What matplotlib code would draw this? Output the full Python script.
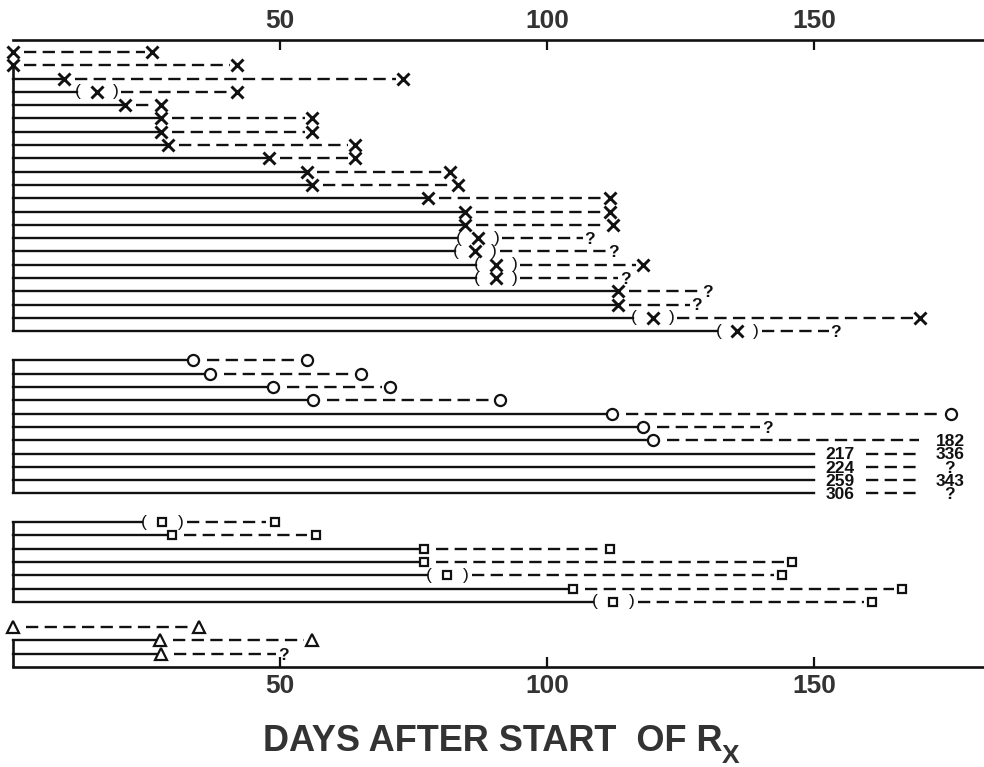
import numpy as np
import matplotlib
matplotlib.use('Agg')
import matplotlib.pyplot as plt

plt.rcParams['font.family'] = ['Liberation Sans', 'DejaVu Sans']

# Days after start of treatment, one list per patient group.
# first event (day), whether it is drawn in parentheses, second event (day)
# and what sits at the end of the dashed line.

# group 1 - crosses
x_first = [0, 0, 9.6, 15.7, 21, 27.7, 27.7, 29, 48, 55, 56, 77.7, 84.6, 84.6,
           87, 86.5, 90.4, 90.4, 113.3, 113.3, 119.8, 135.6]
x_paren = [0, 0, 0, 1, 0, 0, 0, 0, 0, 0, 0, 0, 0, 0, 1, 1, 1, 1, 0, 0, 1, 1]
x_second = [26, 42, 73, 42, 27.7, 56, 56, 64, 64, 81.8, 83.4, 111.8, 111.8, 112.4,
            108, 112.5, 118, 114.6, 130, 128, 169.9, 154]
x_end = ['X'] * 14 + ['?', '?', 'X', '?', '?', '?', 'X', '?']

# group 2 - circles (values past the scale are written as numbers)
o_first = [33.7, 36.9, 48.7, 56.2, 112.2, 118, 119.9, 217, 224, 259, 306]
o_paren = [0] * 11
o_second = [55, 65.2, 70.6, 91.2, 175.7, 141.2, 182, 336, np.nan, 343, np.nan]
o_end = ['O', 'O', 'O', 'O', 'O', '?', 'O', 'O', '?', 'O', '?']

# group 3 - squares
s_first = [27.9, 29.8, 77, 77, 81.3, 104.9, 112.4]
s_paren = [1, 0, 0, 0, 1, 0, 1]
s_second = [49, 56.7, 111.8, 145.9, 144, 166.5, 160.9]
s_end = ['S'] * 7

# group 4 - triangles
t_first = [0, 27.5, 27.7]
t_paren = [0, 0, 0]
t_second = [34.8, 56, 50.6]
t_end = ['T', 'T', '?']

groups = [
    ('X', x_first, x_paren, x_second, x_end),
    ('O', o_first, o_paren, o_second, o_end),
    ('S', s_first, s_paren, s_second, s_end),
    ('T', t_first, t_paren, t_second, t_end),
]
bracket_from = [1, 0, 0, 1]
group_gap = [2.2, 2.15, 1.9]

ticks = [50, 100, 150]
x_max = 181.8
cut = 150          # lines of patients past the scale stop here
on_scale = 178     # anything later is written as a number

ink = '#111111'
grey = '#333333'
lw = 1.7
dash = (0, (5.2, 2.7))

marker_style = {
    'X': dict(marker='x', ms=8.3, mew=2.1, color=ink),
    'O': dict(marker='o', ms=8, mew=1.6, color=ink, mfc='white'),
    'S': dict(marker='s', ms=6.3, mew=1.6, color=ink, mfc='white'),
    'T': dict(marker='^', ms=8.5, mew=1.6, color=ink, mfc='white'),
}
gap_after = {'X': 2.0, 'O': 2.6, 'S': 2.2, 'T': 2.4}
gap_before = {'X': 1.3, 'O': 1.6, 'S': 1.6, 'T': 1.6, '?': 1.3}

W, H = 984, 767
fig = plt.figure(figsize=(W / 100, H / 100), dpi=100)
ax = fig.add_axes([13 / W, 100 / H, 1 - 13 / W, 627 / H])
ax.set_xlim(0, x_max)
ax.set_ylim(47.15, 0)


def symbol(x, y, sym, paren=False):
    ax.plot([x], [y], linestyle='none', clip_on=False, zorder=3, **marker_style[sym])
    if paren:
        off = 3.5
        ax.text(x - off, y, '(', ha='center', va='center', fontsize=12.5,
                color=ink, clip_on=False)
        ax.text(x + off, y, ')', ha='center', va='center', fontsize=12.5,
                color=ink, clip_on=False)


def label(x, y, txt):
    ax.text(x, y + 0.1, txt, ha='center', va='center', fontsize=12.5,
            fontweight='bold', color=ink, clip_on=False)


def draw_row(y, sym, first, paren, second, end):
    # solid line = time until first event
    if first > on_scale:
        ax.plot([0, cut], [y, y], color=ink, lw=lw, clip_on=False)
        label(cut + 4.9, y, str(int(first)))
        d0 = cut + 9.7
    else:
        if first > 0:
            stop = first - 3.8 if paren else first
            ax.plot([0, stop], [y, y], color=ink, lw=lw, clip_on=False)
        symbol(first, y, sym, paren)
        d0 = first + (4.6 if paren else gap_after[sym])

    # dashed line = time until second event
    if end == '?':
        xe = second if not np.isnan(second) else 175.3
        d1 = xe - gap_before['?'] if not np.isnan(second) else 169.6
        label(xe, y, '?')
    elif second > on_scale:
        d1 = 169.6
        label(175.5, y, str(int(second)))
    else:
        d1 = second - gap_before[sym]
        symbol(second, y, sym)
    ax.plot([d0, d1], [y, y], color=ink, lw=lw, linestyle=dash, clip_on=False)


y = 0.9
for gi, (sym, first, paren, second, end) in enumerate(groups):
    ys = y + np.arange(len(first))
    for i in range(len(first)):
        draw_row(ys[i], sym, first[i], paren[i], second[i], end[i])
    # bracket joining the rows of the group
    y_end = 47.15 if gi == len(groups) - 1 else ys[-1]
    ax.vlines(0, ys[bracket_from[gi]], y_end, color=ink, lw=1.9, clip_on=False)
    if gi < len(group_gap):
        y = ys[-1] + group_gap[gi]

# axes: scale on top and bottom, nothing on the sides
for side in ['left', 'right']:
    ax.spines[side].set_visible(False)
for side in ['top', 'bottom']:
    ax.spines[side].set_linewidth(1.9)
    ax.spines[side].set_color(ink)
ax.set_yticks([])
ax.set_xticks(ticks)
ax.tick_params(axis='x', direction='in', top=True, labeltop=True, bottom=True,
               labelbottom=True, length=7, width=1.6, color=ink, pad=5,
               labelsize=19, labelcolor=grey)
for t in ax.get_xticklabels():
    t.set_fontweight('bold')

title = fig.text(263 / W, 16 / H, 'DAYS AFTER START  OF R', fontsize=26,
                 fontweight='bold', color=grey, va='baseline')
fig.canvas.draw()
bb = title.get_window_extent()
fig.text((bb.x1 - 1) / W, 4 / H, 'X', fontsize=19, fontweight='bold',
         color=grey, va='baseline')

fig.savefig('out.png', dpi=100)
